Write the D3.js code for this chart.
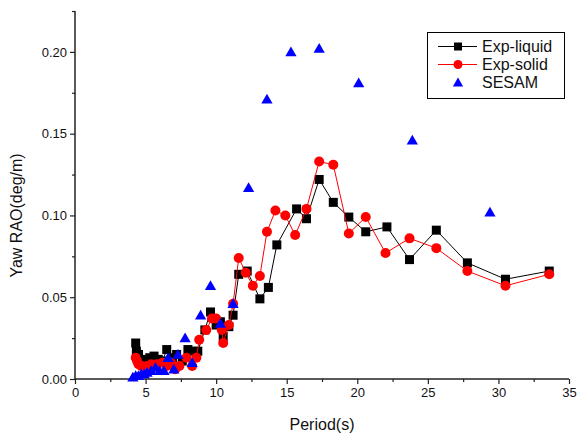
<!DOCTYPE html>
<html>
<head>
<meta charset="utf-8">
<script src="https://cdn.jsdelivr.net/npm/d3@7"></script>
<style>
  body { margin: 0; background: #fff; }
  svg { display: block; font-family: "Liberation Sans", Arial, sans-serif; }
</style>
</head>
<body>
<script>
// Exp-liquid (black squares)
const liquidPeriod = [4.3, 4.35, 4.5, 4.7, 5.0, 5.3, 5.6, 5.9, 6.2, 6.5, 6.9, 7.2, 7.6, 8.0, 8.3, 8.7, 9.2, 9.6, 10.0, 10.3, 10.5, 10.9, 11.2, 11.6, 12.2, 13.1, 13.7, 14.3, 15.7, 16.4, 17.3, 18.3, 19.4, 20.6, 22.1, 23.7, 25.6, 27.8, 30.5, 33.6];
const liquidRAO = [0.022, 0.017, 0.015, 0.012, 0.011, 0.013, 0.014, 0.012, 0.011, 0.018, 0.013, 0.015, 0.011, 0.018, 0.017, 0.017, 0.030, 0.041, 0.033, 0.035, 0.026, 0.032, 0.039, 0.064, 0.066, 0.049, 0.056, 0.082, 0.104, 0.098, 0.122, 0.108, 0.099, 0.090, 0.093, 0.073, 0.091, 0.071, 0.061, 0.066];

// Exp-solid (red circles)
const solidPeriod = [4.3, 4.4, 4.5, 4.7, 5.1, 5.4, 5.8, 6.2, 6.5, 6.8, 7.1, 7.4, 7.9, 8.3, 8.6, 8.8, 9.3, 9.7, 10.0, 10.4, 10.5, 10.9, 11.2, 11.6, 12.1, 12.6, 13.1, 13.6, 14.2, 14.9, 15.6, 16.4, 17.3, 18.3, 19.4, 20.6, 22.0, 23.7, 25.6, 27.8, 30.5, 33.6];
const solidRAO = [0.013, 0.011, 0.009, 0.008, 0.008, 0.009, 0.009, 0.010, 0.008, 0.010, 0.006, 0.008, 0.013, 0.008, 0.013, 0.024, 0.030, 0.037, 0.037, 0.030, 0.022, 0.033, 0.046, 0.074, 0.065, 0.057, 0.063, 0.090, 0.103, 0.100, 0.088, 0.104, 0.133, 0.131, 0.089, 0.099, 0.077, 0.086, 0.080, 0.066, 0.057, 0.064];

// SESAM (blue triangles, no line)
const sesamPeriod = [4.1, 4.3, 4.5, 4.7, 4.9, 5.1, 5.4, 5.7, 6.0, 6.3, 6.6, 7.0, 7.3, 7.8, 8.3, 8.9, 9.6, 10.3, 11.2, 12.3, 13.6, 15.3, 17.3, 20.1, 23.9, 29.4];
const sesamRAO = [0.001, 0.002, 0.002, 0.003, 0.003, 0.004, 0.005, 0.007, 0.005, 0.005, 0.013, 0.006, 0.015, 0.025, 0.010, 0.039, 0.057, 0.034, 0.046, 0.117, 0.171, 0.200, 0.202, 0.181, 0.146, 0.102];

const xTicks = [0, 5, 10, 15, 20, 25, 30, 35];
const yTicks = [0, 0.05, 0.10, 0.15, 0.20];
const xMinor = [2.5, 7.5, 12.5, 17.5, 22.5, 27.5, 32.5];
const yMinor = [0.025, 0.075, 0.125, 0.175, 0.225];

const W = 586, H = 437;
const margin = { top: 11, right: 17, bottom: 58, left: 75 };

const svg = d3.select('body').append('svg')
  .attr('width', W)
  .attr('height', H);

const x = d3.scaleLinear().domain([0, 35]).range([margin.left, W - margin.right]);
const y = d3.scaleLinear().domain([0, 0.225]).range([H - margin.bottom, margin.top]);

// axes
const xAxis = svg.append('g')
  .attr('transform', 'translate(0,' + y(0) + ')')
  .call(d3.axisBottom(x).tickValues(xTicks).tickSize(5).tickPadding(4).tickFormat(d3.format('d')));
svg.append('g')
  .attr('transform', 'translate(0,' + y(0) + ')')
  .call(d3.axisBottom(x).tickValues(xMinor).tickSize(3).tickFormat(''))
  .call(g => g.select('.domain').remove())
  .selectAll('line').attr('stroke', '#222').attr('stroke-width', 1.2);

const yAxis = svg.append('g')
  .attr('transform', 'translate(' + x(0) + ',0)')
  .call(d3.axisLeft(y).tickValues(yTicks).tickSize(5).tickPadding(3).tickFormat(d3.format('.2f')));
svg.append('g')
  .attr('transform', 'translate(' + x(0) + ',0)')
  .call(d3.axisLeft(y).tickValues(yMinor).tickSize(3).tickFormat(''))
  .call(g => g.select('.domain').remove())
  .selectAll('line').attr('stroke', '#222').attr('stroke-width', 1.2);

[xAxis, yAxis].forEach(a => {
  a.select('.domain').attr('stroke', '#222').attr('stroke-width', 1.5);
  a.selectAll('.tick line').attr('stroke', '#222').attr('stroke-width', 1.2);
  a.selectAll('.tick text').attr('font-size', '13px').attr('fill', '#111')
    .attr('font-family', '"Liberation Sans", Arial, sans-serif');
});
yAxis.select('.domain').attr('d', 'M0,' + y(0) + 'V' + margin.top);
xAxis.select('.domain').attr('d', 'M' + x(0) + ',0H' + x(35));

// axis labels
svg.append('text')
  .attr('x', x(17.5)).attr('y', 430)
  .attr('text-anchor', 'middle')
  .attr('font-size', '16px')
  .attr('fill', '#111')
  .text('Period(s)');
svg.append('text')
  .attr('transform', 'translate(22,' + y(0.1) + ') rotate(-90)')
  .attr('text-anchor', 'middle')
  .attr('font-size', '16px')
  .attr('fill', '#111')
  .text('Yaw RAO(deg/m)');

const liquid = liquidPeriod.map((p, i) => ({ p: p, v: liquidRAO[i] }));
const solid = solidPeriod.map((p, i) => ({ p: p, v: solidRAO[i] }));
const sesam = sesamPeriod.map((p, i) => ({ p: p, v: sesamRAO[i] }));

const line = d3.line().x(d => x(d.p)).y(d => y(d.v));

// Exp-liquid
svg.append('path').datum(liquid)
  .attr('d', line).attr('fill', 'none').attr('stroke', '#000').attr('stroke-width', 1);
svg.selectAll('.sq').data(liquid)
  .enter().append('rect')
  .attr('class', 'sq')
  .attr('x', d => x(d.p) - 4.5).attr('y', d => y(d.v) - 4.5)
  .attr('width', 9).attr('height', 9)
  .attr('fill', '#000');

// Exp-solid
svg.append('path').datum(solid)
  .attr('d', line).attr('fill', 'none').attr('stroke', '#ff0000').attr('stroke-width', 1);
svg.selectAll('.ci').data(solid)
  .enter().append('circle')
  .attr('class', 'ci')
  .attr('cx', d => x(d.p)).attr('cy', d => y(d.v))
  .attr('r', 5)
  .attr('fill', '#ff0000');

// SESAM
const tri = d3.symbol().type(d3.symbolTriangle).size(55);
svg.selectAll('.tri').data(sesam)
  .enter().append('path')
  .attr('class', 'tri')
  .attr('transform', d => 'translate(' + x(d.p) + ',' + (y(d.v) + 1) + ')')
  .attr('d', tri)
  .attr('fill', '#0000ff');

// legend
const lg = svg.append('g');
lg.append('rect')
  .attr('x', 427.5).attr('y', 32.5).attr('width', 137).attr('height', 66)
  .attr('fill', '#fff').attr('stroke', '#000').attr('stroke-width', 1);
const items = [
  { name: 'Exp-liquid', color: '#000', shape: 'sq', line: true },
  { name: 'Exp-solid', color: '#ff0000', shape: 'ci', line: true },
  { name: 'SESAM', color: '#0000ff', shape: 'tri', line: false }
];
items.forEach((it, i) => {
  const cy = 46.5 + i * 18;
  if (it.line) {
    lg.append('line').attr('x1', 438).attr('x2', 477).attr('y1', cy).attr('y2', cy)
      .attr('stroke', it.color).attr('stroke-width', 1);
  }
  if (it.shape === 'sq') {
    lg.append('rect').attr('x', 454).attr('y', cy - 4).attr('width', 8).attr('height', 8).attr('fill', it.color);
  } else if (it.shape === 'ci') {
    lg.append('circle').attr('cx', 458).attr('cy', cy).attr('r', 4.5).attr('fill', it.color);
  } else {
    lg.append('path').attr('transform', 'translate(458,' + (cy + 1) + ')')
      .attr('d', d3.symbol().type(d3.symbolTriangle).size(45)).attr('fill', it.color);
  }
  lg.append('text').attr('x', 482).attr('y', cy + 5.5)
    .attr('font-size', '16px').attr('fill', '#111')
    .text(it.name);
});
</script>
</body>
</html>
